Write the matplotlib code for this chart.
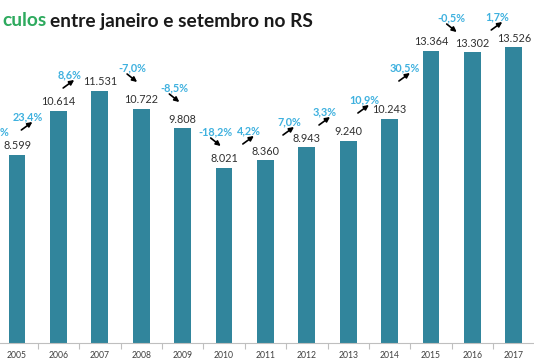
import matplotlib
matplotlib.use("Agg")
import matplotlib.pyplot as plt
from matplotlib.patches import FancyArrowPatch
import matplotlib.transforms as mtransforms

years = ["2005", "2006", "2007", "2008", "2009", "2010", "2011",
         "2012", "2013", "2014", "2015", "2016", "2017"]
values = [8599, 10614, 11531, 10722, 9808, 8021, 8360,
          8943, 9240, 10243, 13364, 13302, 13526]
pct_labels = [None, "23,4%", "8,6%", "-7,0%", "-8,5%", "-18,2%", "4,2%",
              "7,0%", "3,3%", "10,9%", "30,5%", "-0,5%", "1,7%"]

# layout: percent label placement (x offset from bar, y in data units)
pct_dx = [0, -0.75, -0.74, -0.22, -0.2, -0.2, -0.4, -0.43, -0.56, -0.62, -0.63, -0.5, -0.4]
pct_y = [0, 10334, 12254, 12574, 11660, 9648, 9694, 10105, 10562, 11111, 12574, 14860, 14906]

W, H = 534, 364
fig = plt.figure(figsize=(W / 100, H / 100), dpi=100)
fig.patch.set_facecolor("white")

base_px = 343
left_px = 17 - 0.5 * 41.4
ax = fig.add_axes([left_px / W, (H - base_px) / H, 13 * 41.4 / W, base_px / H])
ax.set_xlim(-0.5, 12.5)
ax.set_ylim(0, 15683)
ax.patch.set_alpha(0)

BAR = "#31859C"
PCT = "#3FB1DF"
FONT = "Lato"

x = list(range(len(years)))
ax.bar(x, values, width=0.41, color=BAR, zorder=2)

for i, v in enumerate(values):
    ax.annotate(f"{v:,}".replace(",", "."), (i, v), xytext=(0, 6.5),
                textcoords="offset points", ha="center", va="center",
                fontsize=7.8, color="#303030", family=FONT)

for i, lab in enumerate(pct_labels):
    if lab is None:
        continue
    tx, ty = i + pct_dx[i], pct_y[i]
    ax.text(tx, ty, lab, ha="center", va="center", fontsize=7.8,
            color=PCT, fontweight="bold", family=FONT)
    if lab.startswith("-"):
        s, e = (-5, -6), (5, -14)
    else:
        s, e = (-6, -13), (5, -5)
    off_s = mtransforms.offset_copy(ax.transData, fig=fig, x=s[0] * 0.72, y=s[1] * 0.72, units="points")
    off_e = mtransforms.offset_copy(ax.transData, fig=fig, x=e[0] * 0.72, y=e[1] * 0.72, units="points")
    ps = off_s.transform((tx, ty))
    pe = off_e.transform((tx, ty))
    arr = FancyArrowPatch(ps, pe, transform=None, arrowstyle="-|>",
                          mutation_scale=7, lw=1.2, color="black",
                          shrinkA=0, shrinkB=0)
    fig.patches.append(arr)

# partial cropped label at left edge
fig.text(0, 1 - 133 / H, "%", ha="left", va="center", fontsize=7.8,
         color=PCT, fontweight="bold", family=FONT)

ax.set_xticks([i + 0.5 for i in range(-1, 13)], minor=False)
ax.set_xticklabels([])
ax.set_xticks(x, minor=True)
ax.set_xticklabels(years, minor=True)
ax.tick_params(axis="x", which="major", length=4, color="#BFBFBF", width=0.8)
ax.tick_params(axis="x", which="minor", length=0, labelsize=6.2, labelcolor="#404040", pad=6)
for t in ax.get_xticklabels(minor=True):
    t.set_family(FONT)
ax.set_yticks([])
for sp in ["top", "right", "left"]:
    ax.spines[sp].set_visible(False)
ax.spines["bottom"].set_color("#BFBFBF")
ax.spines["bottom"].set_linewidth(0.8)

# title (cropped at left)
t1 = fig.text(2 / W, 1 - 21 / H, "culos", ha="left", va="center", fontsize=13.8,
              fontweight="bold", color="#2EAA5E", family=FONT)
fig.canvas.draw()
bb = t1.get_window_extent()
fig.text(bb.x1 / W + 4 / W, 1 - 21 / H, "entre janeiro e setembro no RS", ha="left",
         va="center", fontsize=13.8, fontweight="bold", color="#1A1A1A", family=FONT)

fig.savefig("out.png", dpi=100)
